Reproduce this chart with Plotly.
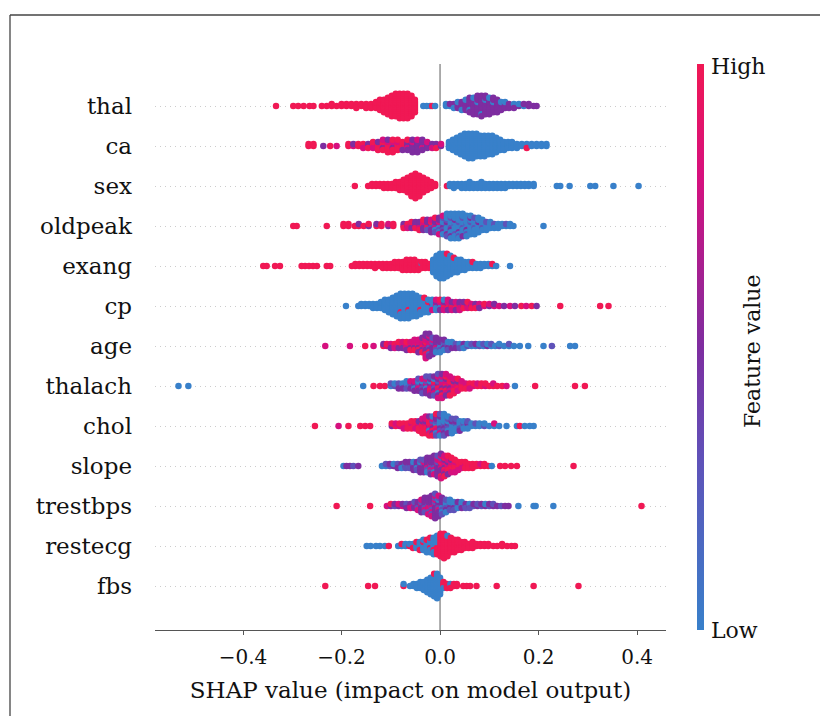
import math
import plotly.graph_objects as go

# Feature order, top to bottom
FEATURES = ["thal", "ca", "sex", "oldpeak", "exang", "cp", "age", "thalach",
            "chol", "slope", "trestbps", "restecg", "fbs"]

# Feature-value codes: b=low (blue) ... r=high (red)
CODE_VALUE = {"b": 0.0, "v": 0.3, "p": 0.5, "m": 0.8, "r": 1.0}

# Each entry: (SHAP value, feature-value codes of the points stacked at that SHAP value)
thal = [(-0.333, "r"), (-0.298, "r"), (-0.288, "r"), (-0.277, "r"), (-0.265, "r"), (-0.257, "r"),
        (-0.240, "r"), (-0.230, "r"), (-0.220, "rr"), (-0.210, "r"), (-0.200, "rr"), (-0.190, "rr"),
        (-0.180, "rr"), (-0.170, "rrr"), (-0.160, "rr"), (-0.150, "rrr"), (-0.140, "rrr"), (-0.130, "rrrr"),
        (-0.122, "rrrrrr"), (-0.114, "rrrrrrr"), (-0.106, "rrrrrrrrr"), (-0.098, "rrrrrrrrrrr"),
        (-0.090, "rrrrrrrrrrrr"), (-0.082, "rrrrrrrrrrrrr"), (-0.074, "rrrrrrrrrrrrr"),
        (-0.066, "rrrrrrrrrrrrr"), (-0.058, "rrrrrrrrrrr"), (-0.051, "rrrrrrr"),
        (-0.034, "b"), (-0.027, "b"), (-0.020, "b"), (-0.016, "r"), (-0.010, "b"),
        (0.012, "bb"), (0.020, "bp"), (0.028, "ppb"), (0.036, "pppb"), (0.044, "ppppb"), (0.052, "pppppb"),
        (0.060, "ppppbppp"), (0.068, "pppppppbp"), (0.076, "pppbpppppp"), (0.084, "ppppppppbpp"),
        (0.092, "pppppbpppp"), (0.100, "pppppppbp"), (0.108, "pppbpppp"), (0.116, "ppppppp"),
        (0.124, "pppbp"), (0.132, "pppb"), (0.140, "ppp"), (0.150, "pbp"), (0.160, "pb"), (0.170, "bp"),
        (0.180, "pp"), (0.190, "p"), (0.196, "p")]

ca = [(-0.267, "rr"), (-0.257, "rr"), (-0.237, "p"), (-0.223, "r"), (-0.210, "m"), (-0.186, "rr"),
      (-0.176, "mp"), (-0.166, "rr"), (-0.156, "rrm"), (-0.146, "rpr"), (-0.136, "rrmr"), (-0.126, "rrrpr"),
      (-0.116, "rrprrm"), (-0.106, "rrrmrpr"), (-0.096, "rrpmrrr"), (-0.086, "rrrmrr"), (-0.076, "rrrrp"),
      (-0.066, "ppmppr"), (-0.056, "pppmppp"), (-0.046, "pppppmp"), (-0.036, "ppmppp"), (-0.026, "pppm"),
      (-0.016, "ppm"), (-0.008, "mpr"), (0.002, "pm"),
      (0.018, "bbbb"), (0.026, "bbbbbb"), (0.034, "bbbbbbbb"), (0.042, "bbbbbbbbbb"),
      (0.050, "bbbbbbbbbbbb"), (0.058, "bbbbbbbbbbbbb"), (0.066, "bbbbbbbbbbbbb"), (0.074, "bbbbbbbbbbbb"),
      (0.082, "bbbbbbbbbbb"), (0.090, "bbbbbbbbbbb"), (0.098, "bbbbbbbbbb"), (0.106, "bbbbbbbbbb"),
      (0.114, "bbbbbbbb"), (0.122, "bbbbbb"), (0.130, "bbbbb"), (0.138, "bbbb"), (0.146, "bbbb"),
      (0.156, "bbb"), (0.166, "bb"), (0.176, "bbr"), (0.186, "bb"), (0.196, "bb"), (0.206, "bb"), (0.216, "bb")]

sex = [(-0.173, "r"), (-0.146, "r"), (-0.138, "rr"), (-0.130, "rr"), (-0.122, "rr"), (-0.114, "rrr"),
       (-0.106, "rrr"), (-0.098, "rrr"), (-0.090, "rrrr"), (-0.082, "rrrrr"), (-0.074, "rrrrrr"),
       (-0.066, "rrrrrrrr"), (-0.058, "rrrrrrrrrrr"), (-0.050, "rrrrrrrrrrrrr"), (-0.042, "rrrrrrrrrrr"),
       (-0.034, "rrrrrrrr"), (-0.026, "rrrrrr"), (-0.018, "rrrr"), (-0.010, "rr"), (0.014, "r"),
       (0.020, "bb"), (0.028, "bbb"), (0.036, "bb"), (0.044, "bbb"), (0.052, "bbb"), (0.060, "bbbb"),
       (0.068, "bbb"), (0.076, "bbb"), (0.084, "bbbb"), (0.092, "bbb"), (0.100, "bbb"), (0.108, "bbb"),
       (0.116, "bbb"), (0.124, "bbb"), (0.132, "bbb"), (0.140, "bb"), (0.148, "bb"), (0.156, "bb"),
       (0.164, "bb"), (0.172, "bb"), (0.180, "bb"), (0.190, "bb"), (0.237, "b"), (0.244, "b"),
       (0.263, "b"), (0.305, "b"), (0.315, "b"), (0.352, "b"), (0.403, "b")]

oldpeak = [(-0.298, "r"), (-0.291, "r"), (-0.230, "r"), (-0.196, "rr"), (-0.186, "rr"), (-0.173, "r"),
           (-0.165, "rp"), (-0.155, "r"), (-0.145, "pr"), (-0.129, "rp"), (-0.119, "rr"), (-0.105, "pm"),
           (-0.095, "rr"), (-0.074, "rpr"), (-0.066, "prm"), (-0.058, "rmpr"), (-0.050, "mprp"),
           (-0.042, "rpmpr"), (-0.034, "mrpmpr"), (-0.026, "pmrpvp"), (-0.018, "mpvrpmp"),
           (-0.010, "pvmpbpvr"), (-0.002, "vpbmvpbpm"), (0.006, "bvpbvbpvbm"), (0.014, "bvbpbvbbpbvb"),
           (0.022, "bbvbpbbvbbpbb"), (0.030, "bvbbbpbbvbbbb"), (0.038, "bbbvbbpbbbvbb"),
           (0.046, "bbvbbbbvbbpb"), (0.054, "bvbbpbbbvbb"), (0.062, "bbbvbbbpbb"), (0.070, "bbvbbbbvb"),
           (0.078, "bbbpbbbb"), (0.086, "bbvbbb"), (0.094, "bbbvb"), (0.102, "bbbb"), (0.110, "bvb"),
           (0.118, "bbb"), (0.126, "bb"), (0.134, "bv"), (0.142, "bb"), (0.149, "b"), (0.210, "b")]

exang = [(-0.359, "r"), (-0.352, "r"), (-0.335, "r"), (-0.325, "r"), (-0.281, "r"), (-0.274, "r"),
         (-0.266, "r"), (-0.258, "r"), (-0.250, "r"), (-0.230, "r"), (-0.223, "r"),
         (-0.179, "r"), (-0.172, "rr"), (-0.164, "rr"), (-0.156, "rr"), (-0.148, "rr"), (-0.140, "rr"),
         (-0.132, "rrr"), (-0.124, "rr"), (-0.116, "rrr"), (-0.108, "rrr"), (-0.100, "rrr"),
         (-0.092, "rrrr"), (-0.084, "rrrr"), (-0.076, "rrrrr"), (-0.068, "rrrrrr"), (-0.060, "rrrrrr"),
         (-0.052, "rrrrrr"), (-0.044, "rrrrr"), (-0.037, "rbrr"), (-0.030, "rrrr"), (-0.022, "rrr"),
         (-0.014, "bbbbbbb"), (-0.007, "bbbbbbbbbbb"), (0.000, "bbbbbbbbbbbbb"), (0.007, "bbbbbbbbbbbbb"),
         (0.014, "bbbbbbbbbbbr"), (0.021, "bbbbbbbbbb"), (0.028, "bbbbbbbr"), (0.035, "bbbbbbb"),
         (0.042, "bbbbbb"), (0.050, "bbbbb"), (0.058, "bbbb"), (0.066, "bbbr"), (0.074, "bbb"),
         (0.082, "bbb"), (0.090, "bb"), (0.098, "bb"), (0.106, "br"), (0.114, "b"), (0.142, "b")]

cp = [(-0.191, "b"), (-0.166, "b"), (-0.160, "bb"), (-0.152, "bb"), (-0.144, "bb"), (-0.136, "bbb"),
      (-0.128, "bbb"), (-0.120, "bbbb"), (-0.112, "bbbbbb"), (-0.104, "bbbbbbb"), (-0.096, "bbbbbbbbb"),
      (-0.088, "bbbbbbbbbbb"), (-0.080, "bbbbbbrbbbbbb"), (-0.072, "bbbbbbbbbbbbb"),
      (-0.064, "bbbbrbbbbbbbb"), (-0.056, "bbbbbbbbbbbb"), (-0.048, "bbbbbbbbbbb"), (-0.040, "bbbbrbbbb"),
      (-0.032, "bbbbbbbr"), (-0.024, "bbbrbbb"), (-0.016, "bpbbmb"), (-0.008, "pmbpbm"), (0.000, "mpbmpr"),
      (0.008, "pmrpmb"), (0.016, "mprmpm"), (0.024, "pmrpm"), (0.032, "mprmp"), (0.040, "rpmpm"),
      (0.048, "pmrp"), (0.056, "mpmr"), (0.064, "pmr"), (0.072, "mpr"), (0.080, "pmp"), (0.090, "mr"),
      (0.100, "pm"), (0.110, "mp"), (0.120, "m"), (0.130, "p"), (0.142, "m"), (0.152, "p"), (0.165, "r"),
      (0.175, "m"), (0.186, "r"), (0.196, "p"), (0.244, "r"), (0.325, "r"), (0.342, "r")]

age = [(-0.233, "m"), (-0.183, "m"), (-0.152, "r"), (-0.135, "m"), (-0.115, "rp"), (-0.108, "mr"),
       (-0.100, "rmp"), (-0.092, "mrm"), (-0.084, "rmpr"), (-0.076, "mrpm"), (-0.068, "rmmrp"),
       (-0.060, "mrpmr"), (-0.052, "rmpmrm"), (-0.044, "mrpmrmp"), (-0.036, "pmrmpmrp"),
       (-0.029, "mpmrpmpmrpmpm"), (-0.022, "pmvmpmrpvmpp"), (-0.015, "pmpvpmpvp"), (-0.008, "vpmpvpbp"),
       (0.000, "pvbpvpb"), (0.008, "vbpvbp"), (0.016, "bvpbv"), (0.024, "vbpb"), (0.032, "bvp"),
       (0.040, "vbv"), (0.048, "bpb"), (0.056, "vb"), (0.064, "bv"), (0.072, "bp"), (0.080, "vb"),
       (0.088, "bv"), (0.096, "pb"), (0.104, "bv"), (0.112, "b"), (0.120, "vb"), (0.130, "b"),
       (0.140, "bv"), (0.150, "b"), (0.162, "b"), (0.179, "b"), (0.210, "b"), (0.227, "v"),
       (0.264, "b"), (0.274, "b")]

thalach = [(-0.531, "b"), (-0.511, "b"), (-0.156, "b"), (-0.135, "r"), (-0.122, "r"), (-0.112, "r"),
           (-0.100, "bv"), (-0.092, "vb"), (-0.084, "bvp"), (-0.076, "vbp"), (-0.068, "pbvb"),
           (-0.060, "bvpm"), (-0.052, "vpbmp"), (-0.044, "pvmbpv"), (-0.036, "mpvbpmv"),
           (-0.028, "pmbvpmpv"), (-0.020, "vpmbrpmvp"), (-0.012, "pmvrpbmpv"), (-0.004, "mprvmpbmpvm"),
           (0.004, "rmpmrvpmrpm"), (0.012, "mrpmrpmrpm"), (0.020, "rmprmrpmr"), (0.028, "mrmprmr"),
           (0.036, "rmrpmr"), (0.044, "mrrm"), (0.052, "rmr"), (0.060, "rrm"), (0.068, "mr"), (0.076, "rm"),
           (0.084, "rr"), (0.092, "mr"), (0.100, "r"), (0.108, "rm"), (0.116, "r"), (0.126, "r"),
           (0.135, "m"), (0.152, "b"), (0.193, "r"), (0.274, "r"), (0.294, "r")]

chol = [(-0.254, "r"), (-0.206, "m"), (-0.186, "r"), (-0.162, "r"), (-0.152, "r"), (-0.142, "r"),
        (-0.098, "pr"), (-0.090, "rm"), (-0.082, "mr"), (-0.074, "rrm"), (-0.066, "mrr"), (-0.058, "rmrr"),
        (-0.050, "rrmr"), (-0.043, "rmrpr"), (-0.036, "mrrprmr"), (-0.029, "rmrprmrm"),
        (-0.022, "prmrbrmpr"), (-0.015, "rmpvrmpbr"), (-0.008, "pbrvmpbpvr"), (0.000, "vbpbvbmpbv"),
        (0.008, "bvpbvbpbvb"), (0.016, "bpvbbvpb"), (0.024, "vbbpbvb"), (0.032, "bvbpbv"),
        (0.040, "bbvbp"), (0.048, "bvbb"), (0.056, "bpbv"), (0.064, "bb"), (0.072, "bv"), (0.080, "bb"),
        (0.090, "vb"), (0.100, "b"), (0.110, "bm"), (0.120, "b"), (0.135, "b"), (0.156, "b"),
        (0.162, "r"), (0.172, "b"), (0.182, "b"), (0.190, "b")]

slope = [(-0.196, "b"), (-0.190, "p"), (-0.183, "p"), (-0.176, "v"), (-0.166, "p"), (-0.118, "b"),
         (-0.110, "bv"), (-0.102, "vp"), (-0.094, "pb"), (-0.086, "bvp"), (-0.078, "vpb"), (-0.070, "pbvp"),
         (-0.062, "bpvp"), (-0.054, "pvpbp"), (-0.047, "vpbpv"), (-0.040, "pvpbpvp"), (-0.033, "pvpmpvp"),
         (-0.026, "vpmpvpbp"), (-0.019, "pmvpmpvpp"), (-0.012, "mpvpmpbpmp"), (-0.005, "pmpvpmpmpvp"),
         (0.002, "mpmrpmpvpmrpm"), (0.009, "rmpmrpmrpmr"), (0.016, "mrmprmrmpr"), (0.023, "rmrmrpmr"),
         (0.030, "mrrmrrm"), (0.037, "rmrrm"), (0.044, "rrmr"), (0.051, "rmrr"), (0.058, "rrr"),
         (0.066, "mrr"), (0.074, "rr"), (0.082, "rm"), (0.090, "rr"), (0.098, "r"), (0.105, "b"),
         (0.122, "r"), (0.132, "r"), (0.144, "r"), (0.156, "r"), (0.271, "r")]

trestbps = [(-0.210, "r"), (-0.142, "r"), (-0.108, "m"), (-0.100, "pr"), (-0.092, "vp"), (-0.084, "pm"),
            (-0.076, "mp"), (-0.068, "pvp"), (-0.060, "mpm"), (-0.052, "pmpv"), (-0.045, "mpvpm"),
            (-0.038, "pmpvpmp"), (-0.031, "mpvpmpvp"), (-0.024, "pvmpmpvpm"), (-0.017, "vpmpvpmpvpm"),
            (-0.010, "pmpvpmpvpmpvp"), (-0.003, "mpvpmbpvpmp"), (0.004, "vpbpvpbpv"), (0.012, "pbvbpvb"),
            (0.020, "bvpbvb"), (0.028, "vbpbv"), (0.036, "bvbp"), (0.044, "vbpb"), (0.052, "bpv"),
            (0.060, "pbv"), (0.068, "vp"), (0.076, "pv"), (0.084, "vp"), (0.092, "pb"), (0.100, "vp"),
            (0.108, "pv"), (0.116, "p"), (0.124, "v"), (0.132, "p"), (0.139, "p"), (0.159, "b"),
            (0.190, "b"), (0.194, "b"), (0.230, "b"), (0.409, "r")]

restecg = [(-0.149, "b"), (-0.141, "b"), (-0.130, "b"), (-0.122, "b"), (-0.112, "b"), (-0.104, "r"),
           (-0.085, "b"), (-0.078, "br"), (-0.070, "bb"), (-0.062, "rb"), (-0.055, "bbr"), (-0.048, "bbbr"),
           (-0.041, "bbbbr"), (-0.034, "bbbrbb"), (-0.027, "bbbbbrb"), (-0.020, "bbrbbbbr"),
           (-0.013, "bbbbrbbbb"), (-0.006, "rbrbrbrbrb"), (0.001, "rrrrrrrrrrrr"), (0.008, "rrrrrrrrrrrrr"),
           (0.015, "rrrrrrrrrbr"), (0.022, "rrrrrrrr"), (0.029, "rrrrrrr"), (0.036, "rrrrrr"),
           (0.043, "rrrrr"), (0.050, "rrrr"), (0.058, "rrr"), (0.066, "rrrr"), (0.074, "rr"), (0.082, "rr"),
           (0.090, "rr"), (0.098, "rr"), (0.108, "r"), (0.116, "r"), (0.126, "rr"), (0.136, "r"),
           (0.145, "r"), (0.152, "r")]

fbs = [(-0.233, "r"), (-0.146, "r"), (-0.132, "r"), (-0.074, "rb"), (-0.061, "b"), (-0.054, "bb"),
       (-0.047, "bbb"), (-0.040, "bbbb"), (-0.033, "bbbbb"), (-0.026, "bbbbbbb"), (-0.019, "bbbbbbbbb"),
       (-0.012, "bbbbbbbbbbbr"), (-0.006, "bbbbbbbbbbbbb"), (0.000, "bbbbbbbbb"), (0.007, "rrbr"),
       (0.014, "rrr"), (0.021, "rbr"), (0.028, "rr"), (0.034, "rr"), (0.047, "r"), (0.054, "r"),
       (0.061, "r"), (0.074, "r"), (0.115, "r"), (0.190, "r"), (0.281, "r")]

ROWS = {"thal": thal, "ca": ca, "sex": sex, "oldpeak": oldpeak, "exang": exang, "cp": cp,
        "age": age, "thalach": thalach, "chol": chol, "slope": slope, "trestbps": trestbps,
        "restecg": restecg, "fbs": fbs}

X_TICKS = [-0.4, -0.2, 0.0, 0.2, 0.4]

# --- beeswarm layout (SHAP style stacking) ---
xs, ys, cs = [], [], []
n = len(FEATURES)
for idx, name in enumerate(FEATURES):
    pos = n - 1 - idx
    entries = ROWS[name]
    max_off = max(math.ceil((len(s) - 1) / 2) for _, s in entries)
    scale = 0.9 * 0.4 / (max_off + 1)
    for x, s in entries:
        for layer, ch in enumerate(s):
            off = math.ceil(layer / 2) * ((layer % 2) * 2 - 1)
            xs.append(x)
            ys.append(pos + off * scale)
            cs.append(CODE_VALUE[ch])

COLORSCALE = [[0.0, "rgb(56,128,202)"], [0.3, "rgb(95,82,185)"], [0.5, "rgb(126,45,160)"],
              [0.8, "rgb(214,16,126)"], [1.0, "rgb(240,24,84)"]]

FONT = "DejaVu Serif"

# Page has an 8px body margin; figure coordinates = page coordinates - 8
OFF = 8
W, H = 820, 708
L, R, T, B = 155 - OFF, 162, 64 - OFF, 86
pw, ph = W - L - R, H - T - B

def px_x(p):
    return (p - OFF - L) / pw

def px_y(p):
    return (H - B - (p - OFF)) / ph

fig = go.Figure()
fig.add_trace(go.Scatter(
    x=xs, y=ys, mode="markers",
    marker=dict(size=6.5, color=cs, colorscale=COLORSCALE, cmin=0, cmax=1,
                line=dict(width=0),
                showscale=True,
                colorbar=dict(thickness=7, len=1, lenmode="fraction", y=0.5, yanchor="middle",
                              x=px_x(697), xanchor="left", xpad=0, ypad=0, outlinewidth=0,
                              showticklabels=False, ticks="")),
    hoverinfo="skip", showlegend=False))

fig.update_layout(
    width=W, height=H,
    margin=dict(l=L, r=R, t=T, b=B, pad=0),
    paper_bgcolor="white", plot_bgcolor="white",
    font=dict(family=FONT, color="black"),
    xaxis=dict(range=[-0.5787, 0.4587], tickvals=X_TICKS, tickformat=".1f",
               showgrid=False, zeroline=False, showline=True, linecolor="#555555", linewidth=1.2,
               ticks="outside", ticklen=4, tickcolor="#555555", tickwidth=1,
               tickfont=dict(size=20, family=FONT, color="#111111"), ticklabelstandoff=5,
               title=dict(text="SHAP value (impact on model output)",
                          font=dict(size=23, family=FONT, color="#111111"), standoff=13)),
    yaxis=dict(range=[-1.1, 13.05], tickvals=list(range(n)), ticktext=FEATURES[::-1],
               showgrid=True, gridcolor="#cccccc", gridwidth=1, griddash="1px,4px",
               zeroline=False, showline=False, ticks="",
               tickfont=dict(size=23, family=FONT, color="#111111"), ticklabelstandoff=22),
    shapes=[
        dict(type="line", xref="x", yref="paper", x0=0, x1=0, y0=0, y1=1,
             line=dict(color="#999999", width=1.6), layer="below"),
        dict(type="line", xref="paper", yref="paper", x0=px_x(10), x1=px_x(830), y0=px_y(15), y1=px_y(15),
             line=dict(color="#444444", width=1.3)),
        dict(type="line", xref="paper", yref="paper", x0=px_x(10), x1=px_x(10), y0=px_y(15), y1=px_y(720),
             line=dict(color="#444444", width=1.3)),
    ],
    annotations=[
        dict(text="High", xref="paper", yref="paper", x=px_x(709), y=px_y(66), xanchor="left",
             yanchor="middle", showarrow=False, font=dict(size=22, family=FONT, color="#111111")),
        dict(text="Low", xref="paper", yref="paper", x=px_x(709), y=px_y(630), xanchor="left",
             yanchor="middle", showarrow=False, font=dict(size=22, family=FONT, color="#111111")),
        dict(text="Feature value", xref="paper", yref="paper", x=px_x(752), y=px_y(351), textangle=-90,
             xanchor="center", yanchor="middle", showarrow=False,
             font=dict(size=22, family=FONT, color="#111111")),
    ],
)

fig.write_html("out.html")
